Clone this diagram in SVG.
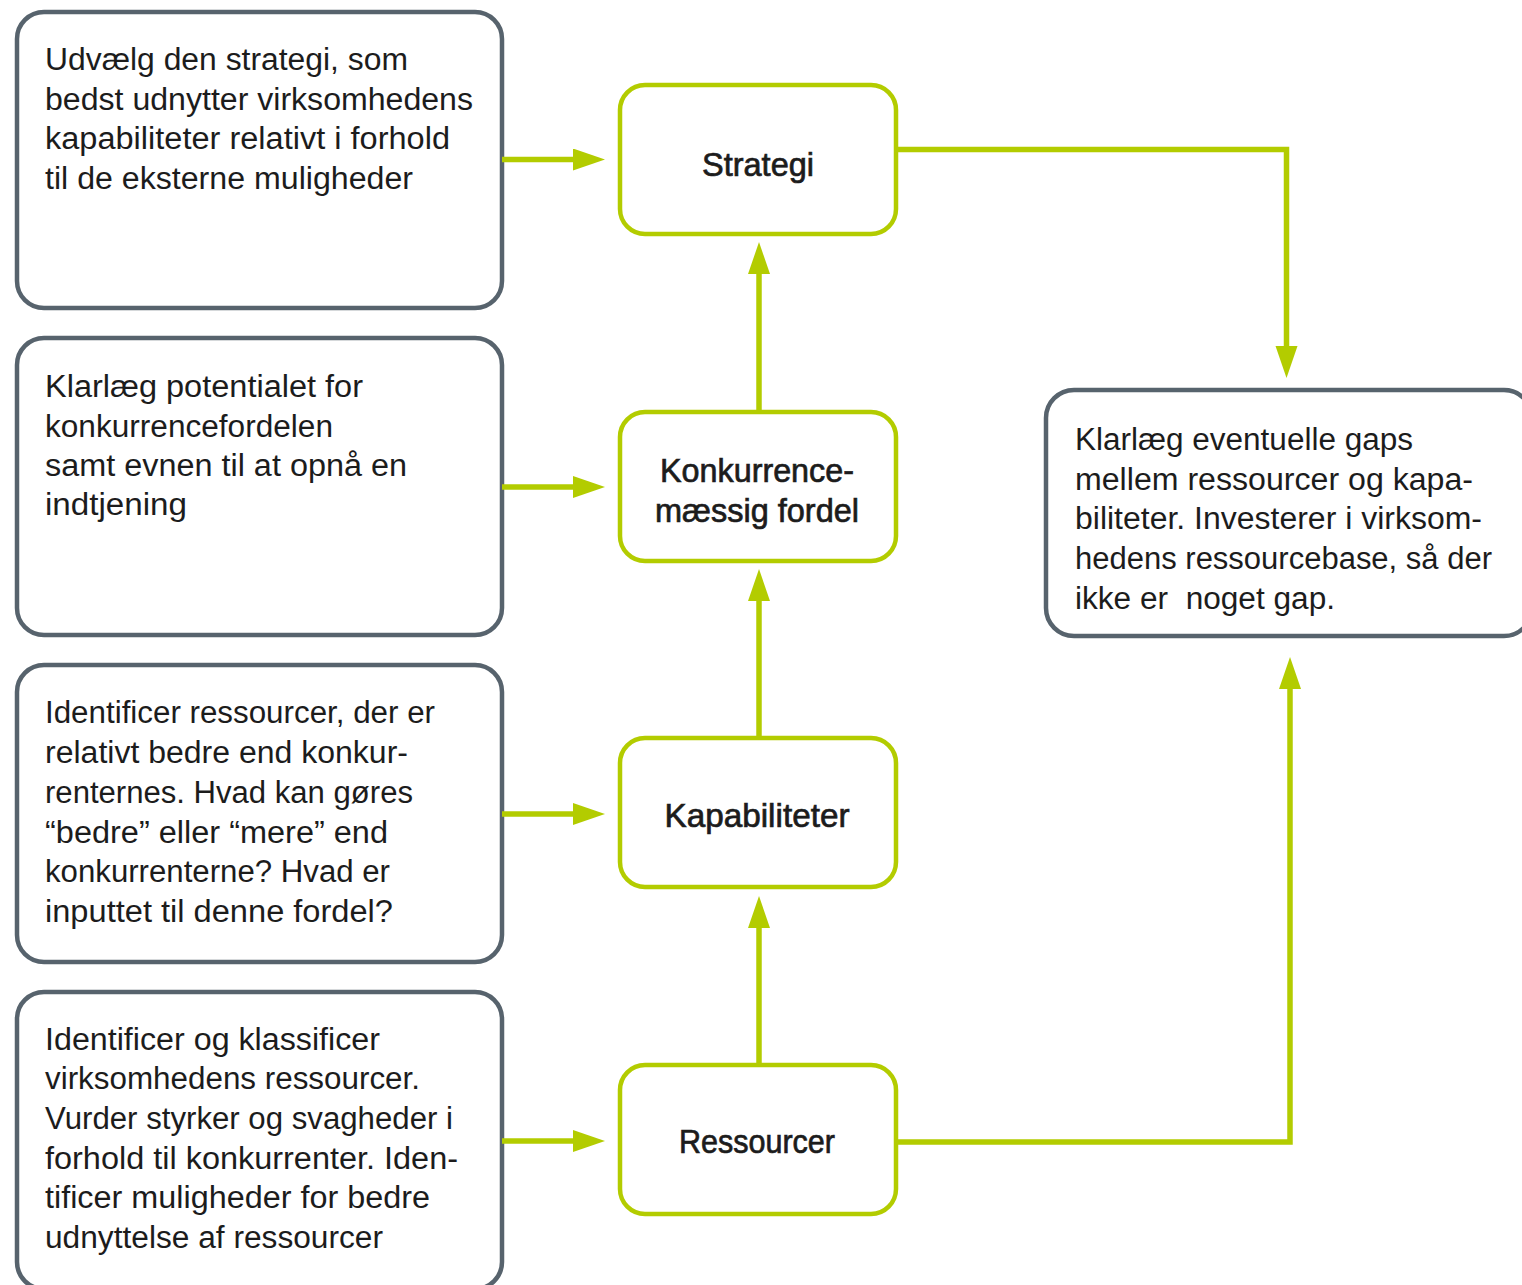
<svg xmlns="http://www.w3.org/2000/svg" width="1522" height="1285" viewBox="0 0 1522 1285">
  <style>
    .note { fill: #ffffff; stroke: #57636d; stroke-width: 4.5; }
    .step { fill: #ffffff; stroke: #b3cc00; stroke-width: 4.5; }
    .body { font-family: "Liberation Sans", Arial, sans-serif; font-size: 31px; fill: #1c1c1c; white-space: pre; }
    .label { font-family: "Liberation Sans", Arial, sans-serif; font-size: 33px; fill: #1c1c1c; stroke: #1c1c1c; stroke-width: 0.7; text-anchor: middle; }
    .link { fill: none; stroke: #b3cc00; stroke-width: 5.5; stroke-linejoin: miter; }
  </style>
  <defs>
    <marker id="head" markerUnits="userSpaceOnUse" markerWidth="34" markerHeight="24" refX="2" refY="11" orient="auto">
      <path d="M0,0 L32,11 L0,22 z" fill="#b3cc00"/>
    </marker>
  </defs>

  <rect width="1522" height="1285" fill="#ffffff"/>

  <!-- description boxes, left column -->
  <g id="note-strategi">
    <rect class="note" x="17" y="12" width="485" height="296" rx="27"/>
    <text class="body">
      <tspan x="45" y="70" textLength="363" lengthAdjust="spacingAndGlyphs">Udvælg den strategi, som</tspan>
      <tspan x="45" y="110" textLength="428" lengthAdjust="spacingAndGlyphs">bedst udnytter virksomhedens</tspan>
      <tspan x="45" y="149" textLength="405" lengthAdjust="spacingAndGlyphs">kapabiliteter relativt i forhold</tspan>
      <tspan x="45" y="189" textLength="368" lengthAdjust="spacingAndGlyphs">til de eksterne muligheder</tspan>
    </text>
  </g>

  <g id="note-fordel">
    <rect class="note" x="17" y="338" width="485" height="297" rx="27"/>
    <text class="body">
      <tspan x="45" y="397" textLength="318" lengthAdjust="spacingAndGlyphs">Klarlæg potentialet for</tspan>
      <tspan x="45" y="437" textLength="288" lengthAdjust="spacingAndGlyphs">konkurrencefordelen</tspan>
      <tspan x="45" y="476" textLength="362" lengthAdjust="spacingAndGlyphs">samt evnen til at opnå en</tspan>
      <tspan x="45" y="515" textLength="142" lengthAdjust="spacingAndGlyphs">indtjening</tspan>
    </text>
  </g>

  <g id="note-kapabiliteter">
    <rect class="note" x="17" y="665" width="485" height="297" rx="27"/>
    <text class="body">
      <tspan x="45" y="723" textLength="390" lengthAdjust="spacingAndGlyphs">Identificer ressourcer, der er</tspan>
      <tspan x="45" y="763" textLength="363" lengthAdjust="spacingAndGlyphs">relativt bedre end konkur-</tspan>
      <tspan x="45" y="803" textLength="368" lengthAdjust="spacingAndGlyphs">renternes. Hvad kan gøres</tspan>
      <tspan x="45" y="843" textLength="343" lengthAdjust="spacingAndGlyphs">“bedre” eller “mere” end</tspan>
      <tspan x="45" y="882" textLength="345" lengthAdjust="spacingAndGlyphs">konkurrenterne? Hvad er</tspan>
      <tspan x="45" y="922" textLength="348" lengthAdjust="spacingAndGlyphs">inputtet til denne fordel?</tspan>
    </text>
  </g>

  <g id="note-ressourcer">
    <rect class="note" x="17" y="992" width="485" height="297" rx="27"/>
    <text class="body">
      <tspan x="45" y="1050" textLength="335" lengthAdjust="spacingAndGlyphs">Identificer og klassificer</tspan>
      <tspan x="45" y="1089" textLength="375" lengthAdjust="spacingAndGlyphs">virksomhedens ressourcer.</tspan>
      <tspan x="45" y="1129" textLength="408" lengthAdjust="spacingAndGlyphs">Vurder styrker og svagheder i</tspan>
      <tspan x="45" y="1169" textLength="413" lengthAdjust="spacingAndGlyphs">forhold til konkurrenter. Iden-</tspan>
      <tspan x="45" y="1208" textLength="385" lengthAdjust="spacingAndGlyphs">tificer muligheder for bedre</tspan>
      <tspan x="45" y="1248" textLength="338" lengthAdjust="spacingAndGlyphs">udnyttelse af ressourcer</tspan>
    </text>
  </g>

  <!-- process steps, middle column -->
  <g id="step-strategi">
    <rect class="step" x="620" y="85" width="276" height="149" rx="25"/>
    <text class="label" x="758" y="176" textLength="112" lengthAdjust="spacingAndGlyphs">Strategi</text>
  </g>

  <g id="step-fordel">
    <rect class="step" x="620" y="412" width="276" height="149" rx="25"/>
    <text class="label" x="757" y="482" textLength="194" lengthAdjust="spacingAndGlyphs">Konkurrence-</text>
    <text class="label" x="757" y="522" textLength="204" lengthAdjust="spacingAndGlyphs">mæssig fordel</text>
  </g>

  <g id="step-kapabiliteter">
    <rect class="step" x="620" y="738" width="276" height="149" rx="25"/>
    <text class="label" x="757" y="827" textLength="185" lengthAdjust="spacingAndGlyphs">Kapabiliteter</text>
  </g>

  <g id="step-ressourcer">
    <rect class="step" x="620" y="1065" width="276" height="149" rx="25"/>
    <text class="label" x="757" y="1153" textLength="156" lengthAdjust="spacingAndGlyphs">Ressourcer</text>
  </g>

  <!-- gap analysis box, right -->
  <g id="note-gaps">
    <rect class="note" x="1046" y="390" width="486" height="246" rx="28"/>
    <text class="body">
      <tspan x="1075" y="450" textLength="338" lengthAdjust="spacingAndGlyphs">Klarlæg eventuelle gaps</tspan>
      <tspan x="1075" y="490" textLength="398" lengthAdjust="spacingAndGlyphs">mellem ressourcer og kapa-</tspan>
      <tspan x="1075" y="529" textLength="407" lengthAdjust="spacingAndGlyphs">biliteter. Investerer i virksom-</tspan>
      <tspan x="1075" y="569" textLength="417" lengthAdjust="spacingAndGlyphs">hedens ressourcebase, så der</tspan>
      <tspan x="1075" y="609" textLength="260" lengthAdjust="spacingAndGlyphs">ikke er  noget gap.</tspan>
    </text>
  </g>

  <!-- connectors -->
  <g id="connectors">
    <path class="link" d="M502,159.5 H575" marker-end="url(#head)"/>
    <path class="link" d="M502,487 H575" marker-end="url(#head)"/>
    <path class="link" d="M502,814 H575" marker-end="url(#head)"/>
    <path class="link" d="M502,1141 H575" marker-end="url(#head)"/>

    <path class="link" d="M759,1065 V926" marker-end="url(#head)"/>
    <path class="link" d="M759,738 V599" marker-end="url(#head)"/>
    <path class="link" d="M759,412 V272" marker-end="url(#head)"/>

    <path class="link" d="M896,149.5 H1286.5 V348" marker-end="url(#head)"/>
    <path class="link" d="M896,1142 H1290 V687" marker-end="url(#head)"/>
  </g>
</svg>
